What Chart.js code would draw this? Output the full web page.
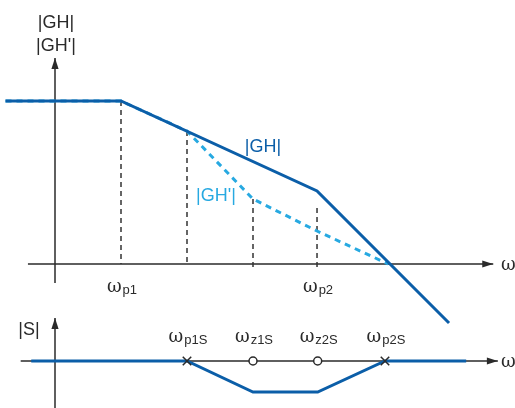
<!DOCTYPE html>
<html lang="en">
<head>
<meta charset="UTF-8">
<title>|GH| and |S| asymptotes</title>
<script src="https://cdn.jsdelivr.net/npm/chart.js"></script>
<style>
  html, body { margin: 0; padding: 0; background: #fff; }
  #bode { display: block; }
</style>
</head>
<body>
<canvas id="bode" width="515" height="408"></canvas>
<script>
// corner frequencies, in decades from the origin of the w axis
var wp1 = 1, wp1S = 2, wz1S = 3, wp2 = 3.97, wz2S = 3.98, wp2S = 5;

// |GH| asymptote
var ghW = [-0.75, wp1, wp2, 5.97];
var ghMag = [16.3, 16.3, 7.3, -5.9];

// |GH'| asymptote
var ghpW = [-0.75, wp1, wp1S, wz1S, wp2, 5.05];
var ghpMag = [16.3, 16.3, 13.3, 6.5, 3.3, 0];

// dashed guides from the corners down to the axis
var guideW = [wp1, wp1S, wz1S, wp2];
var guideTop = [16.3, 13.3, 6.5, 5.6];
var guideBottom = [0, 0, -0.3, -0.3];

// |S| asymptote
var sW = [-0.36, wp1S, wz1S, wz2S, wp2S, 6.23];
var sMag = [0, 0, -3.1, -3.1, 0, 0];

// poles and zeros of S
var poleW = [wp1S, wp2S];
var zeroW = [wz1S, wz2S];

// tick labels (w + subscript)
var topTickW = [wp1, wp2];
var topTickSub = ['p1', 'p2'];
var sTickW = [wp1S, wz1S, wz2S, wp2S];
var sTickSub = ['p1S', 'z1S', 'z2S', 'p2S'];

var darkBlue = '#0b5ea8';
var lightBlue = '#27a9e1';
var ink = '#2a2a2a';

function pts(xs, ys) {
    return xs.map(function(x, i) { return { x: x, y: ys[i] }; });
}

var datasets = [
    {
        label: '|GH|', data: pts(ghW, ghMag), yAxisID: 'y',
        borderColor: darkBlue, borderWidth: 3, order: 1
    },
    {
        label: "|GH'|", data: pts(ghpW, ghpMag), yAxisID: 'y',
        borderColor: lightBlue, borderWidth: 3, borderDash: [6, 5], order: 2
    },
    {
        label: '|S|', data: pts(sW, sMag), yAxisID: 'yS',
        borderColor: darkBlue, borderWidth: 3, order: 1
    },
    {
        label: 'poles', data: pts(poleW, poleW.map(function() { return 0; })), yAxisID: 'yS',
        showLine: false, pointStyle: 'crossRot', pointRadius: 6,
        borderColor: ink, borderWidth: 1.5, order: 0
    },
    {
        label: 'zeros', data: pts(zeroW, zeroW.map(function() { return 0; })), yAxisID: 'yS',
        showLine: false, pointStyle: 'circle', pointRadius: 4,
        backgroundColor: '#fff', borderColor: ink, borderWidth: 1.5, order: 0
    }
];

guideW.forEach(function(w, i) {
    datasets.push({
        label: 'guide' + i, data: pts([w, w], [guideTop[i], guideBottom[i]]), yAxisID: 'y',
        borderColor: '#333', borderWidth: 1.5, borderDash: [5, 4], order: 3
    });
});

function arrowLine(ctx, x1, y1, x2, y2) {
    ctx.beginPath();
    ctx.moveTo(x1, y1);
    ctx.lineTo(x2, y2);
    ctx.stroke();
    var a = Math.atan2(y2 - y1, x2 - x1), len = 11, hw = 3.6;
    ctx.beginPath();
    ctx.moveTo(x2, y2);
    ctx.lineTo(x2 - len * Math.cos(a) + hw * Math.sin(a), y2 - len * Math.sin(a) - hw * Math.cos(a));
    ctx.lineTo(x2 - len * Math.cos(a) - hw * Math.sin(a), y2 - len * Math.sin(a) + hw * Math.cos(a));
    ctx.closePath();
    ctx.fill();
}

var omegaFont = '18px "DejaVu Serif"';
var subFont = '13px "Liberation Sans"';

function omegaLabel(ctx, sub, cx, base) {
    ctx.font = omegaFont;
    var w1 = ctx.measureText('\u03c9').width;
    ctx.font = subFont;
    var w2 = ctx.measureText(sub).width;
    var x0 = cx - (w1 + 1 + w2) / 2;
    ctx.textAlign = 'left';
    ctx.textBaseline = 'alphabetic';
    ctx.font = omegaFont;
    ctx.fillText('\u03c9', x0, base);
    ctx.font = subFont;
    ctx.fillText(sub, x0 + w1 + 1, base + 2);
}

var axesPlugin = {
    id: 'axes',
    beforeDatasetsDraw: function(chart) {
        var ctx = chart.ctx, x = chart.scales.x, y = chart.scales.y, yS = chart.scales.yS;
        ctx.save();
        ctx.strokeStyle = ink;
        ctx.fillStyle = ink;
        ctx.lineWidth = 1.5;
        var x0 = x.getPixelForValue(0);
        // top panel
        arrowLine(ctx, x.getPixelForValue(-0.41), y.getPixelForValue(0), x.getPixelForValue(6.64), y.getPixelForValue(0));
        arrowLine(ctx, x0, y.getPixelForValue(-1.9), x0, y.getPixelForValue(20.6));
        // bottom panel
        arrowLine(ctx, x.getPixelForValue(-0.52), yS.getPixelForValue(0), x.getPixelForValue(6.71), yS.getPixelForValue(0));
        arrowLine(ctx, x0, yS.getPixelForValue(-4.8), x0, yS.getPixelForValue(4.3));
        ctx.restore();
    },
    afterDatasetsDraw: function(chart) {
        var ctx = chart.ctx, x = chart.scales.x, y = chart.scales.y, yS = chart.scales.yS;
        ctx.save();
        ctx.fillStyle = ink;
        var yAx = y.getPixelForValue(0), sAx = yS.getPixelForValue(0);
        topTickW.forEach(function(w, i) {
            omegaLabel(ctx, topTickSub[i], x.getPixelForValue(w) + 1, yAx + 28);
        });
        sTickW.forEach(function(w, i) {
            omegaLabel(ctx, sTickSub[i], x.getPixelForValue(w) + 1, sAx - 19);
        });
        ctx.font = omegaFont;
        ctx.textAlign = 'left';
        ctx.fillText('\u03c9', 501, yAx + 6);
        ctx.fillText('\u03c9', 501, sAx + 6);

        // axis titles
        var x0 = x.getPixelForValue(0);
        ctx.font = '18px "Liberation Sans"';
        ctx.textAlign = 'center';
        ctx.textBaseline = 'middle';
        ctx.fillText('|GH|', x0 + 1, 23);
        ctx.fillText("|GH'|", x0 + 1, 46);
        ctx.fillText('|S|', 29, 330);

        // curve labels
        ctx.fillStyle = darkBlue;
        ctx.fillText('|GH|', 263, 147);
        ctx.fillStyle = lightBlue;
        ctx.fillText("|GH'|", 216, 196);
        ctx.restore();
    }
};

new Chart(document.getElementById('bode').getContext('2d'), {
    type: 'scatter',
    data: { datasets: datasets },
    options: {
        responsive: false,
        animation: false,
        showLine: true,
        layout: { padding: 0, autoPadding: false },
        elements: { point: { radius: 0, hoverRadius: 0 }, line: { fill: false } },
        plugins: { legend: { display: false }, tooltip: { enabled: false } },
        scales: {
            x: { type: 'linear', display: false, min: -55 / 66, max: 460 / 66 },
            y: { type: 'linear', display: false, min: -14.4, max: 26.4 },
            yS: { type: 'linear', display: false, min: -4.7, max: 36.1 }
        }
    },
    plugins: [axesPlugin]
});
</script>
</body>
</html>
